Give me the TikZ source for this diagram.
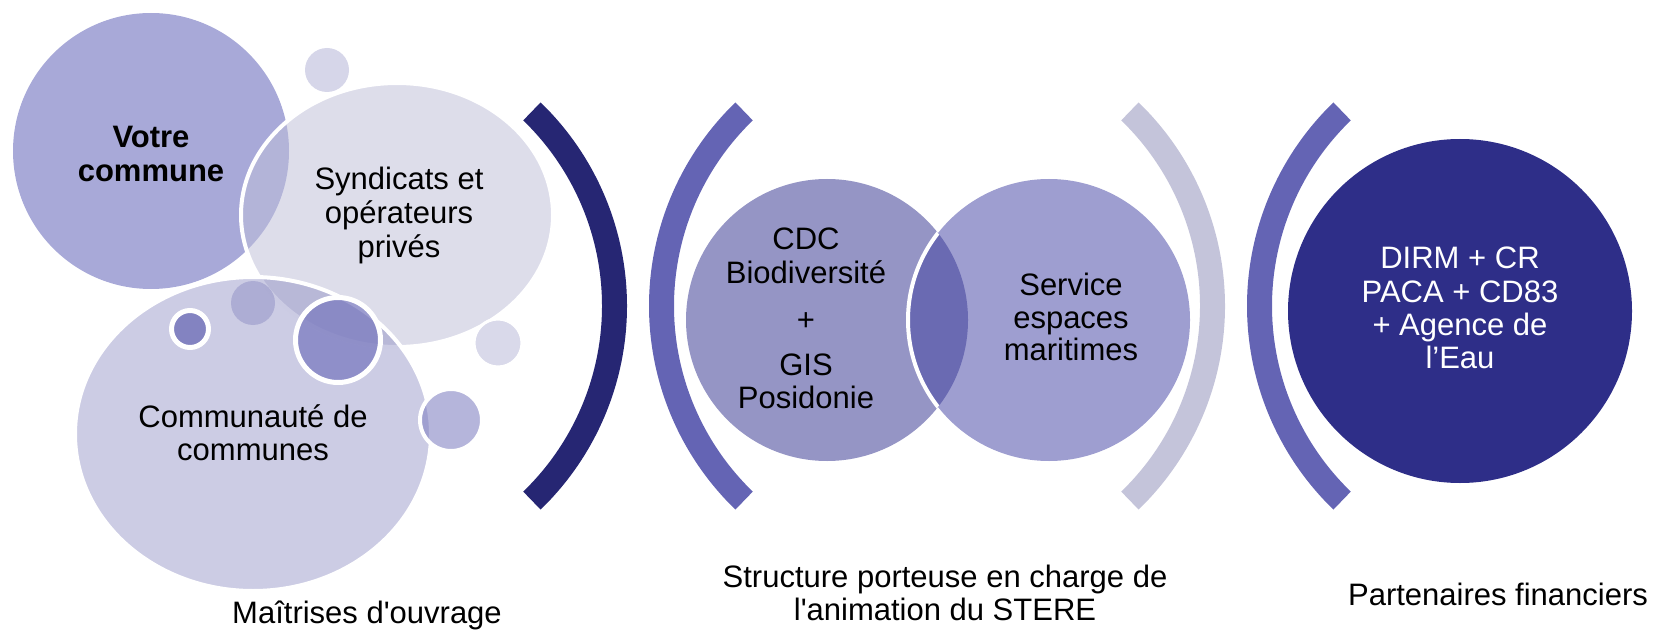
\documentclass[tikz,border=0pt]{standalone}
\usepackage{fontspec}
\setmainfont{Liberation Sans}
\definecolor{cVotre}{HTML}{A8A9D8}
\definecolor{cSynd}{RGB}{190,190,216}
\definecolor{cComm}{RGB}{136,136,192}
\definecolor{cSmallTop}{HTML}{D6D6E9}
\definecolor{cLightR}{HTML}{D9D9EA}
\definecolor{cBigB}{HTML}{7C7CC0}
\definecolor{cSmallB}{HTML}{8383C1}
\definecolor{cRightB}{RGB}{130,130,194}
\definecolor{cDark}{HTML}{262673}
\definecolor{cMid}{HTML}{6464B4}
\definecolor{cPale}{HTML}{C4C4DA}
\definecolor{cCDC}{HTML}{9595C5}
\definecolor{cServ}{HTML}{9E9ED0}
\definecolor{cInter}{HTML}{6A6AB2}
\definecolor{cDirm}{HTML}{2E2E88}
\begin{document}
\begin{tikzpicture}[x=1bp,y=-1bp,
  lbl/.style={inner sep=0pt, anchor=base, font=\fontsize{31bp}{33.5bp}\selectfont},
  wborder/.style={draw=white, draw opacity=1}]
\useasboundingbox (0,0) rectangle (1658,633);

% ---------- left cluster ----------
\fill[cVotre] (151,151) circle[radius=138];
\fill[cSmallTop] (327,70) circle[radius=22];
\path[fill=cSynd, fill opacity=0.53, wborder, line width=4bp] (397,215) ellipse[x radius=156, y radius=132];
\path[fill=cLightR, wborder, line width=3bp] (498,343) circle[radius=24];
\path[fill=cComm, fill opacity=0.43, wborder, line width=4bp] (253,434) ellipse[x radius=178, y radius=157];
\fill[cComm, fill opacity=0.45] (253,303) circle[radius=22];
\path[fill=cBigB, fill opacity=0.75, wborder, line width=5bp] (338,340) circle[radius=42.5];
\path[fill=cSmallB, wborder, line width=5bp] (190,329) circle[radius=18.5];
\path[fill=cRightB, fill opacity=0.59, wborder, line width=4bp] (451,420) circle[radius=31];

\node[lbl] (v1) at (151,148) {\bfseries Votre};
\node[lbl] (v2) at (151,182) {\bfseries commune};
\node[lbl] (s1) at (399,190) {Syndicats et};
\node[lbl] (s2) at (399,224) {opérateurs};
\node[lbl] (s3) at (399,257) {privés};
\node[lbl] (c1) at (253,427) {Communauté de};
\node[lbl] (c2) at (253,460) {communes};

% ---------- brackets ----------
\fill[cDark] ([shift={(-46:283)}]344,306) arc[start angle=-46,end angle=46,radius=283]
  -- ([shift={(46:258)}]344,306) arc[start angle=46,end angle=-46,radius=258] -- cycle;
\fill[cMid] ([shift={(134:283)}]932,306) arc[start angle=134,end angle=226,radius=283]
  -- ([shift={(226:258)}]932,306) arc[start angle=226,end angle=134,radius=258] -- cycle;
\fill[cPale] ([shift={(-46:283)}]942,306) arc[start angle=-46,end angle=46,radius=283]
  -- ([shift={(46:258)}]942,306) arc[start angle=46,end angle=-46,radius=258] -- cycle;
\fill[cMid] ([shift={(134:283)}]1530,306) arc[start angle=134,end angle=226,radius=283]
  -- ([shift={(226:258)}]1530,306) arc[start angle=226,end angle=134,radius=258] -- cycle;

% ---------- middle pair ----------
\fill[cCDC] (827,320) circle[radius=141];
\fill[cServ] (1049,320) circle[radius=141];
\begin{scope}
  \clip (827,320) circle[radius=141];
  \fill[cInter] (1049,320) circle[radius=141];
  \draw[white, line width=4bp] (1049,320) circle[radius=141];
\end{scope}

\node[lbl] (d1) at (806,249) {CDC};
\node[lbl] (d2) at (806,283) {Biodiversité};
\node[lbl] (d3) at (806,330) {+};
\node[lbl] (d4) at (806,375) {GIS};
\node[lbl] (d5) at (806,408) {Posidonie};
\node[lbl] (e1) at (1071,295) {Service};
\node[lbl] (e2) at (1071,328) {espaces};
\node[lbl] (e3) at (1071,360) {maritimes};

% ---------- right circle ----------
\fill[cDirm] (1460,311) circle[radius=172];
\node[lbl, text=white] (f1) at (1460,268) {DIRM + CR};
\node[lbl, text=white] (f2) at (1460,302) {PACA + CD83};
\node[lbl, text=white] (f3) at (1460,335) {+ Agence de};
\node[lbl, text=white] (f4) at (1460,368) {l’Eau};

% ---------- captions ----------
\node[lbl] (t1) at (367,623) {Maîtrises d\textquotesingle ouvrage};
\node[lbl] (t2) at (945,587) {Structure porteuse en charge de};
\node[lbl] (t3) at (945,620) {l\textquotesingle animation du STERE};
\node[lbl] (t4) at (1498,605) {Partenaires financiers};
\end{tikzpicture}
\end{document}
